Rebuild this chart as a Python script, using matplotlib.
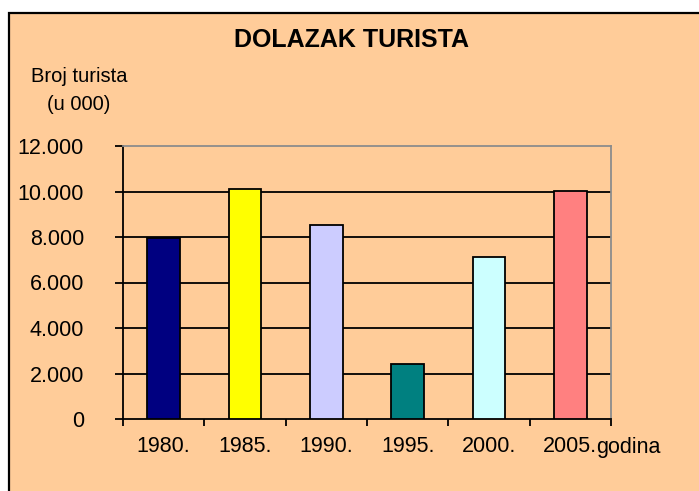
import numpy as np
import matplotlib
matplotlib.use("Agg")
import matplotlib.pyplot as plt
from matplotlib.patches import Rectangle
from matplotlib.ticker import FuncFormatter

# broj turista (u 000) po godinama
godine = ['1980.', '1985.', '1990.', '1995.', '2000.', '2005.']
turisti = [7940, 10100, 8510, 2420, 7130, 10020]
boje = ['#000080', '#FFFF00', '#CCCCFF', '#008080', '#CCFFFF', '#FF8080']
y_ticks = [0, 2000, 4000, 6000, 8000, 10000, 12000]

plt.rcParams['font.family'] = ['Liberation Sans', 'DejaVu Sans']

fig = plt.figure(figsize=(6.99, 4.91), dpi=100)
fig.patch.set_facecolor('white')

# peach chart area with black left/top border
W, H = 699.0, 491.0
bg = Rectangle((9 / W, -0.05), 1.1, (H - 13) / H + 0.05, transform=fig.transFigure,
               facecolor='#FFCC99', edgecolor='black', linewidth=1.6, zorder=-10)
fig.patches.append(bg)

ax = fig.add_axes([123 / W, 72 / H, 488 / W, 273 / H])
ax.set_facecolor('#FFCC99')

x = np.arange(len(godine))
ax.bar(x, turisti, width=0.4, color=boje, edgecolor='black', linewidth=1.3, zorder=3)

ax.set_xlim(-0.5, len(godine) - 0.5)
ax.set_ylim(0, 12000)
ax.set_yticks(y_ticks)
ax.yaxis.set_major_formatter(FuncFormatter(lambda v, p: f"{int(v):,}".replace(",", ".")))

# ticks between categories, labels at the centres
ax.set_xticks(np.arange(-0.5, len(godine), 1))
ax.set_xticklabels([])
ax.set_xticks(x, minor=True)
ax.set_xticklabels(godine, minor=True)
ax.tick_params(axis='x', which='major', length=5, width=1.3, color='black', direction='out')
ax.tick_params(axis='x', which='minor', length=0, pad=12.5, labelsize=15.5)
ax.tick_params(axis='y', length=6, width=1.3, color='black', direction='out', pad=22, labelsize=15.5)

for yv in y_ticks[1:-1]:
    ax.axhline(yv, color='black', linewidth=1.3, zorder=1)

for s in ['left', 'bottom']:
    ax.spines[s].set_color('black')
    ax.spines[s].set_linewidth(1.3)
for s in ['top', 'right']:
    ax.spines[s].set_color('#8C8C8C')
    ax.spines[s].set_linewidth(1.3)

fig.text(351 / W, 1 - 40 / H, 'DOLAZAK TURISTA', ha='center', va='center',
         fontsize=18, fontweight='bold')
fig.text(79 / W, 1 - 77 / H, 'Broj turista', ha='center', va='center', fontsize=14.5)
fig.text(79 / W, 1 - 104 / H, '(u 000)', ha='center', va='center', fontsize=14.5)
fig.text(596 / W, 1 - 447 / H, 'godina', ha='left', va='center', fontsize=15.5)

fig.savefig('out.png', dpi=100)
